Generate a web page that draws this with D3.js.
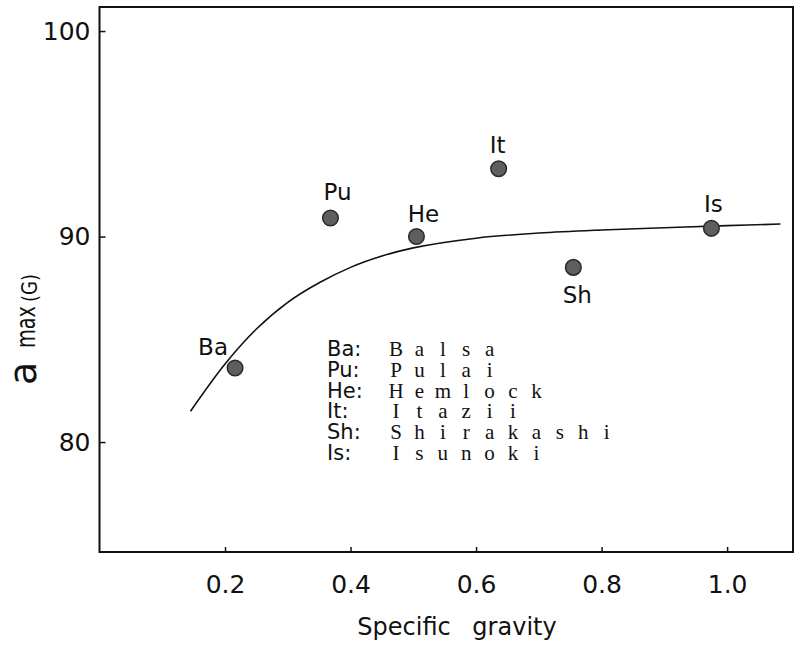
<!DOCTYPE html>
<html>
<head>
<meta charset="utf-8">
<script src="https://cdn.jsdelivr.net/npm/d3@7"></script>
<style>
  body { margin: 0; background: #fff; }
  svg { display: block; font-family: "DejaVu Sans", sans-serif; }
</style>
</head>
<body>
<div class="chart"></div>
<script>
// species, abbreviations and their measured points
const codes = ["Ba", "Pu", "He", "It", "Sh", "Is"];
const names = ["Balsa", "Pulai", "Hemlock", "Itazii", "Shirakashi", "Isunoki"];
const gravity = [0.216, 0.368, 0.505, 0.636, 0.755, 0.975];
const amax = [83.6, 90.9, 90.0, 93.3, 88.5, 90.4];

// fitted curve
const curveX = [0.145, 0.20, 0.25, 0.30, 0.35, 0.40, 0.45, 0.50, 0.60, 0.70, 0.80, 0.90, 1.00, 1.085];
const curveY = [81.5, 83.8, 85.5, 86.8, 87.75, 88.5, 89.05, 89.45, 89.92, 90.17, 90.32, 90.43, 90.53, 90.61];

const xTicks = [0.2, 0.4, 0.6, 0.8, 1.0];
const yTicks = [80, 90, 100];

// label offsets from each dot (px): [dx, dy]
const labelOffset = [[-22, -13], [7, -18], [7, -15], [-1, -16], [4, 36], [2, -16]];

const w = 795, h = 647;

const svg = d3.select('.chart').append('svg')
    .attr('width', w)
    .attr('height', h);

const x = d3.scaleLinear().domain([0, 1.105]).range([99.5, 793]);
const y = d3.scaleLinear().domain([74.65, 101.17]).range([552, 7]);

// frame
svg.append('rect')
    .attr('x', x(0)).attr('y', y(101.17))
    .attr('width', x(1.105) - x(0))
    .attr('height', y(74.65) - y(101.17))
    .attr('fill', 'none')
    .attr('stroke', '#111')
    .attr('stroke-width', 2);

const xAxis = svg.append('g')
    .attr('transform', `translate(0,${y(74.65)})`)
    .call(d3.axisBottom(x).tickValues(xTicks).tickFormat(d3.format('.1f'))
        .tickSizeInner(-5).tickSizeOuter(0).tickPadding(23));

const yAxis = svg.append('g')
    .attr('transform', `translate(${x(0)},0)`)
    .call(d3.axisLeft(y).tickValues(yTicks).tickFormat(d3.format('d'))
        .tickSizeInner(-6).tickSizeOuter(0).tickPadding(9));

[xAxis, yAxis].forEach(g => {
    g.select('.domain').remove();
    g.selectAll('line').attr('stroke', '#111').attr('stroke-width', 1.5);
    g.selectAll('text')
        .attr('fill', '#111')
        .style('font-family', '"DejaVu Sans", sans-serif')
        .style('font-size', '25px');
});

// curve
const line = d3.line()
    .x(d => x(d[0]))
    .y(d => y(d[1]))
    .curve(d3.curveCatmullRom.alpha(0.5));

svg.append('path')
    .datum(d3.zip(curveX, curveY))
    .attr('d', line)
    .attr('fill', 'none')
    .attr('stroke', '#111')
    .attr('stroke-width', 1.6);

// points
const pts = codes.map((c, i) => ({ code: c, g: gravity[i], a: amax[i], off: labelOffset[i] }));

svg.selectAll('.dot')
    .data(pts)
    .enter()
    .append('circle')
    .attr('class', 'dot')
    .attr('cx', d => x(d.g))
    .attr('cy', d => y(d.a))
    .attr('r', 7.8)
    .attr('fill', '#5e5e5e')
    .attr('stroke', '#2a2a2a')
    .attr('stroke-width', 1.5);

svg.selectAll('.plabel')
    .data(pts)
    .enter()
    .append('text')
    .attr('class', 'plabel')
    .attr('x', d => x(d.g) + d.off[0])
    .attr('y', d => y(d.a) + d.off[1])
    .attr('text-anchor', 'middle')
    .attr('fill', '#111')
    .style('font-size', '23px')
    .text(d => d.code);

// key
const key = svg.append('g').attr('class', 'key');
codes.forEach((c, i) => {
    const by = 356 + i * 20.8;
    key.append('text')
        .attr('x', 327).attr('y', by)
        .attr('fill', '#111')
        .style('font-size', '21px')
        .text(c + ':');
    const chars = names[i].split('');
    key.append('text')
        .attr('x', chars.map((ch, j) => 396 + j * 23.4).join(' '))
        .attr('y', by)
        .attr('text-anchor', 'middle')
        .attr('fill', '#111')
        .style('font-family', '"Liberation Serif", serif')
        .style('font-size', '21px')
        .text(names[i]);
});

// axis titles
svg.append('text')
    .attr('x', 457).attr('y', 635)
    .attr('text-anchor', 'middle')
    .attr('fill', '#111')
    .style('font-size', '24px')
    .style('word-spacing', '14px')
    .text('Specific gravity');

const yt = svg.append('g')
    .attr('transform', 'translate(36,385) rotate(-90)')
    .attr('fill', '#111');
yt.append('text').attr('x', 0).style('font-size', '38px').text('a');
yt.append('text').attr('x', 37).attr('y', -1).style('font-size', '26px')
    .attr('textLength', 42).attr('lengthAdjust', 'spacingAndGlyphs').text('max');
yt.append('text').attr('x', 83).attr('y', 1).style('font-size', '21px')
    .attr('textLength', 28).attr('lengthAdjust', 'spacingAndGlyphs').text('(G)');
</script>
</body>
</html>
